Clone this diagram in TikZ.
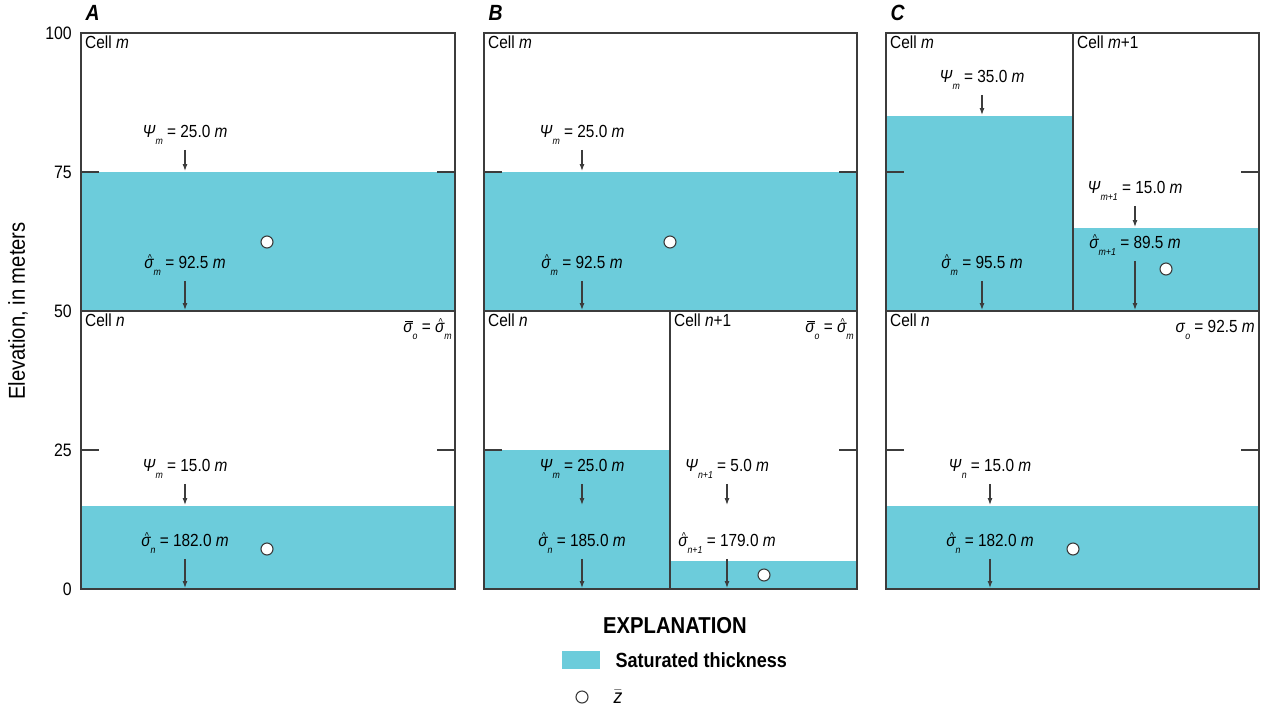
\documentclass[tikz,border=0pt]{standalone}
\usepackage{fontspec}
\setmainfont{Liberation Sans}[FakeStretch=0.88]
\usetikzlibrary{arrows.meta}
\definecolor{satblue}{RGB}{108,204,219}
\definecolor{edge}{RGB}{60,60,60}
\newcommand{\sub}[1]{\raisebox{-0.75ex}{\fontsize{10}{10}\selectfont\itshape #1}}
\newcommand{\psisub}[1]{\textit{Ψ}\sub{#1}}
\newcommand{\hatsig}{\ooalign{\itshape σ\cr\hidewidth\kern0.1em\raisebox{0.75ex}{\fontsize{10}{10}\selectfont\textasciicircum}\hidewidth\cr}}
\newcommand{\barsig}{\ooalign{\itshape σ\cr\hidewidth\kern0.12em\raisebox{1.15ex}{\rule{0.42em}{0.9pt}}\hidewidth\cr}}
\newcommand{\sighat}[1]{\hatsig\sub{#1}}
\newcommand{\sigbar}[1]{\barsig\sub{#1}}

\tikzset{
  cellbox/.style={draw=edge, line width=1.3pt},
  sat/.style={fill=satblue},
  lbl/.style={font=\fontsize{17.5}{19}\selectfont, inner sep=1pt},
  axnum/.style={font=\fontsize{18}{18}\selectfont, inner sep=1pt, anchor=east},
  celltxt/.style={lbl, anchor=north west},
  arr/.style={draw=edge, line width=1.1pt, shorten <=4pt, -{Latex[length=7pt,width=5pt]}},
  zbar/.style={circle, draw=edge, fill=white, line width=1.1pt, minimum size=12pt, inner sep=0pt},
  elevtick/.style={draw=edge, line width=1.3pt},
  panel/.style={font=\fontsize{22}{22}\selectfont\bfseries\itshape, anchor=west},
}

\begin{document}
\begin{tikzpicture}[x=1pt,y=-1pt]
\useasboundingbox (0,0) rectangle (1261,710);

% saturated thickness
\fill[sat] (81,172) rectangle (455,311);
\fill[sat] (81,506) rectangle (455,589);
\fill[sat] (484,172) rectangle (857,311);
\fill[sat] (484,450) rectangle (670,589);
\fill[sat] (670,561) rectangle (857,589);
\fill[sat] (886,116) rectangle (1073,311);
\fill[sat] (1073,228) rectangle (1259,311);
\fill[sat] (886,506) rectangle (1259,589);

% cells
\draw[cellbox] (81,33) rectangle (455,589);
\draw[cellbox] (81,311) -- (455,311);
\draw[cellbox] (484,33) rectangle (857,589);
\draw[cellbox] (484,311) -- (857,311);
\draw[cellbox] (670,311) -- (670,589);
\draw[cellbox] (886,33) rectangle (1259,589);
\draw[cellbox] (886,311) -- (1259,311);
\draw[cellbox] (1073,33) -- (1073,311);

\foreach \l/\r in {81/455,484/857,886/1259}{
  \foreach \y in {172,450}{
    \draw[elevtick] (\l,\y) -- ++(18,0);
    \draw[elevtick] (\r,\y) -- ++(-18,0);
  }
}

% axis
\node[axnum] (e100) at (73,33) {100};
\node[axnum] (e75) at (73,172) {75};
\node[axnum] (e50) at (73,311) {50};
\node[axnum] (e25) at (73,450) {25};
\node[axnum] (e0) at (73,589) {0};
\node[rotate=90, font=\fontsize{23}{23}\selectfont] (elev) at (18,311) {Elevation, in meters};

\node[panel] (pA) at (82,13) {A};
\node[panel] (pB) at (485,13) {B};
\node[panel] (pC) at (887,13) {C};

% panel A
\node[celltxt] (cAm) at (84,35) {Cell \textit{m}};
\node[celltxt] (cAn) at (84,313) {Cell \textit{n}};
\node[lbl, anchor=east] (oA) at (453,331) {\sigbar{o} = \sighat{m}};
\node[lbl] (psiAm) at (185,135) {\psisub{m} = 25.0 \textit{m}};
\node[lbl] (sigAm) at (185,266) {\sighat{m} = 92.5 \textit{m}};
\node[lbl] (psiAn) at (185,469) {\psisub{m} = 15.0 \textit{m}};
\node[lbl] (sigAn) at (185,544) {\sighat{n} = 182.0 \textit{m}};
\coordinate (wAm) at (185,171);
\coordinate (bAm) at (185,310);
\coordinate (wAn) at (185,505);
\coordinate (bAn) at (185,588);
\draw[arr] (psiAm) -- (wAm);
\draw[arr] (sigAm) -- (bAm);
\draw[arr] (psiAn) -- (wAn);
\draw[arr] (sigAn) -- (bAn);
\node[zbar] (zAm) at (267,242) {};
\node[zbar] (zAn) at (267,549) {};

% panel B
\node[celltxt] (cBm) at (487,35) {Cell \textit{m}};
\node[celltxt] (cBn) at (487,313) {Cell \textit{n}};
\node[celltxt] (cBn1) at (673,313) {Cell \textit{n}+1};
\node[lbl, anchor=east] (oB) at (855,331) {\sigbar{o} = \sighat{m}};
\node[lbl] (psiBm) at (582,135) {\psisub{m} = 25.0 \textit{m}};
\node[lbl] (sigBm) at (582,266) {\sighat{m} = 92.5 \textit{m}};
\node[lbl] (psiBn) at (582,469) {\psisub{m} = 25.0 \textit{m}};
\node[lbl] (sigBn) at (582,544) {\sighat{n} = 185.0 \textit{m}};
\node[lbl] (psiBn1) at (727,469) {\psisub{n+1} = 5.0 \textit{m}};
\node[lbl] (sigBn1) at (727,544) {\sighat{n+1} = 179.0 \textit{m}};
\coordinate (wBm) at (582,171);
\coordinate (bBm) at (582,310);
\coordinate (wBn) at (582,505);
\coordinate (bBn) at (582,588);
\coordinate (wBn1) at (727,505);
\coordinate (bBn1) at (727,588);
\draw[arr] (psiBm) -- (wBm);
\draw[arr] (sigBm) -- (bBm);
\draw[arr] (psiBn) -- (wBn);
\draw[arr] (sigBn) -- (bBn);
\draw[arr] (psiBn1) -- (wBn1);
\draw[arr] (sigBn1) -- (bBn1);
\node[zbar] (zBm) at (670,242) {};
\node[zbar] (zBn1) at (764,575) {};

% panel C
\node[celltxt] (cCm) at (889,35) {Cell \textit{m}};
\node[celltxt] (cCm1) at (1076,35) {Cell \textit{m}+1};
\node[celltxt] (cCn) at (889,313) {Cell \textit{n}};
\node[lbl, anchor=east] (oC) at (1256,330) {\textit{σ}\sub{o} = 92.5 \textit{m}};
\node[lbl] (psiCm) at (982,80) {\psisub{m} = 35.0 \textit{m}};
\node[lbl] (sigCm) at (982,266) {\sighat{m} = 95.5 \textit{m}};
\node[lbl] (psiCm1) at (1135,191) {\psisub{m+1} = 15.0 \textit{m}};
\node[lbl] (sigCm1) at (1135,246) {\sighat{m+1} = 89.5 \textit{m}};
\node[lbl] (psiCn) at (990,469) {\psisub{n} = 15.0 \textit{m}};
\node[lbl] (sigCn) at (990,544) {\sighat{n} = 182.0 \textit{m}};
\coordinate (wCm) at (982,115);
\coordinate (bCm) at (982,310);
\coordinate (wCm1) at (1135,227);
\coordinate (bCm1) at (1135,310);
\coordinate (wCn) at (990,505);
\coordinate (bCn) at (990,588);
\draw[arr] (psiCm) -- (wCm);
\draw[arr] (sigCm) -- (bCm);
\draw[arr] (psiCm1) -- (wCm1);
\draw[arr] (sigCm1) -- (bCm1);
\draw[arr] (psiCn) -- (wCn);
\draw[arr] (sigCn) -- (bCn);
\node[zbar] (zCm1) at (1166,269) {};
\node[zbar] (zCn) at (1073,549) {};

% explanation
\node[font=\fontsize{23}{23}\selectfont\bfseries] (expl) at (675,626) {EXPLANATION};
\fill[sat] (562,651) rectangle (600,669);
\node[font=\fontsize{20.5}{20.5}\selectfont\bfseries, anchor=west] (satlbl) at (612,660) {Saturated thickness};
\node[zbar] (zleg) at (582,697) {};
\node[font=\fontsize{20}{20}\selectfont, anchor=west] (zlbl) at (610,697) {$\bar{\mbox{\itshape z}}$};
\end{tikzpicture}
\end{document}
